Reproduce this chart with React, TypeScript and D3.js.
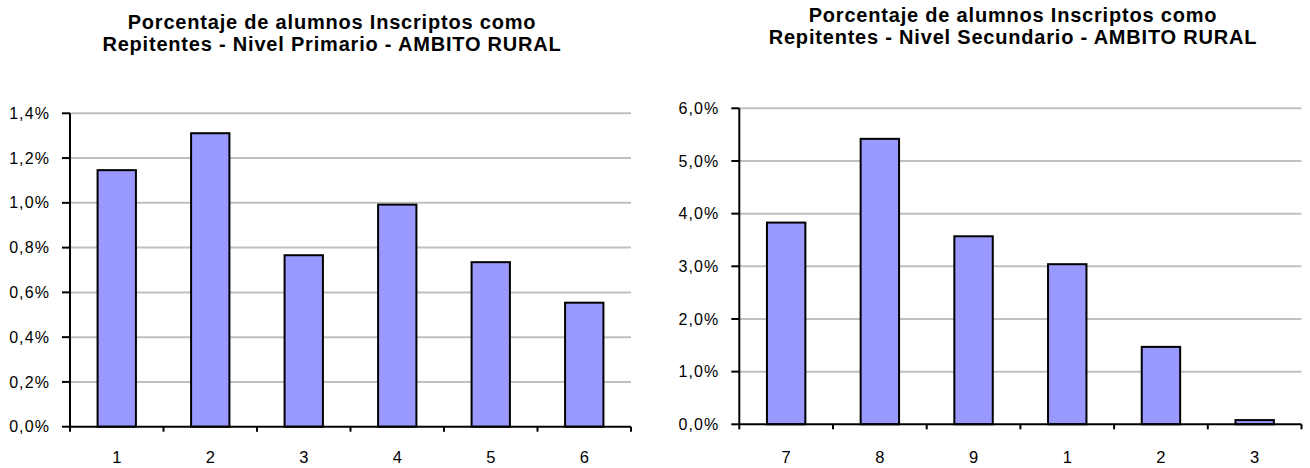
import React from "react";
import * as d3 from "d3";

const primCategories = ["1", "2", "3", "4", "5", "6"];
const primValues = [1.146, 1.311, 0.766, 0.992, 0.735, 0.554];
const primTicks = [0, 0.2, 0.4, 0.6, 0.8, 1.0, 1.2, 1.4];
const primTitle = ["Porcentaje de alumnos Inscriptos como", "Repitentes - Nivel Primario - AMBITO RURAL"];

const secCategories = ["7", "8", "9", "1", "2", "3"];
const secValues = [3.83, 5.42, 3.57, 3.04, 1.47, 0.08];
const secTicks = [0, 1, 2, 3, 4, 5, 6];
const secTitle = ["Porcentaje de alumnos Inscriptos como", "Repitentes - Nivel Secundario - AMBITO RURAL"];

const FONT = "Arial, 'Liberation Sans', sans-serif";

type PanelProps = {
  cats: string[];
  vals: number[];
  ticks: number[];
  title: string[];
  x0: number;
  x1: number;
  yTop: number;
  yBottom: number;
  titleY: number;
  titleX: number;
};

function Panel({ cats, vals, ticks, title, x0, x1, yTop, yBottom, titleY, titleX }: PanelProps) {
  const max = ticks[ticks.length - 1];
  const y = d3.scaleLinear().domain([0, max]).range([yBottom, yTop]);
  const keys = cats.map((c, i) => i + "");
  const x = d3.scaleBand<string>().domain(keys).range([x0, x1]).paddingInner(0.59).paddingOuter(0.295);
  const band = d3.scaleBand<string>().domain(keys).range([x0, x1]);
  const fmt = (v: number) => v.toFixed(1).replace(".", ",") + "%";
  return (
    <g>
      {title.map((t, i) => (
        <text key={i} x={titleX} y={titleY + i * 22} textAnchor="middle" fontFamily={FONT} fontWeight="bold" fontSize={20} letterSpacing={0.8} fill="#000">
          {t}
        </text>
      ))}
      {ticks.slice(1).map((t) => (
        <line key={"g" + t} x1={x0} x2={x1} y1={y(t)} y2={y(t)} stroke="#c0c0c0" strokeWidth={2} />
      ))}
      {vals.map((v, i) => (
        <rect key={"b" + i} x={x(i + "")!} width={x.bandwidth()} y={y(v)} height={yBottom - y(v)} fill="#9999ff" stroke="#000" strokeWidth={2} />
      ))}
      <line x1={x0} x2={x0} y1={yTop} y2={yBottom} stroke="#000" strokeWidth={2} />
      <line x1={x0} x2={x1} y1={yBottom} y2={yBottom} stroke="#000" strokeWidth={2} />
      {ticks.map((t) => (
        <g key={"t" + t}>
          <line x1={x0 - 8} x2={x0} y1={y(t)} y2={y(t)} stroke="#000" strokeWidth={2} />
          <text x={x0 - 20} y={y(t)} dy="0.35em" textAnchor="end" fontFamily={FONT} fontSize={16} letterSpacing={1.1} fill="#000">
            {fmt(t)}
          </text>
        </g>
      ))}
      {keys.map((k) => (
        <line key={"xt" + k} x1={band(k)!} x2={band(k)!} y1={yBottom} y2={yBottom + 5} stroke="#000" strokeWidth={2} />
      ))}
      <line x1={x1} x2={x1} y1={yBottom} y2={yBottom + 5} stroke="#000" strokeWidth={2} />
      {cats.map((c, i) => (
        <text key={"xl" + i} x={band(i + "")! + band.bandwidth() / 2} y={463} textAnchor="middle" fontFamily={FONT} fontSize={16.5} fill="#000">
          {c}
        </text>
      ))}
    </g>
  );
}

export default function App() {
  return (
    <svg width={1310} height={468} style={{ position: "absolute", left: 0, top: 0, background: "#fff" }}>
      <rect width={1310} height={468} fill="#fff" />
      <Panel cats={primCategories} vals={primValues} ticks={primTicks} title={primTitle} x0={70} x1={631} yTop={113.3} yBottom={426.7} titleY={29} titleX={332} />
      <Panel cats={secCategories} vals={secValues} ticks={secTicks} title={secTitle} x0={739.3} x1={1301.5} yTop={108.3} yBottom={424.3} titleY={22} titleX={1013} />
    </svg>
  );
}
